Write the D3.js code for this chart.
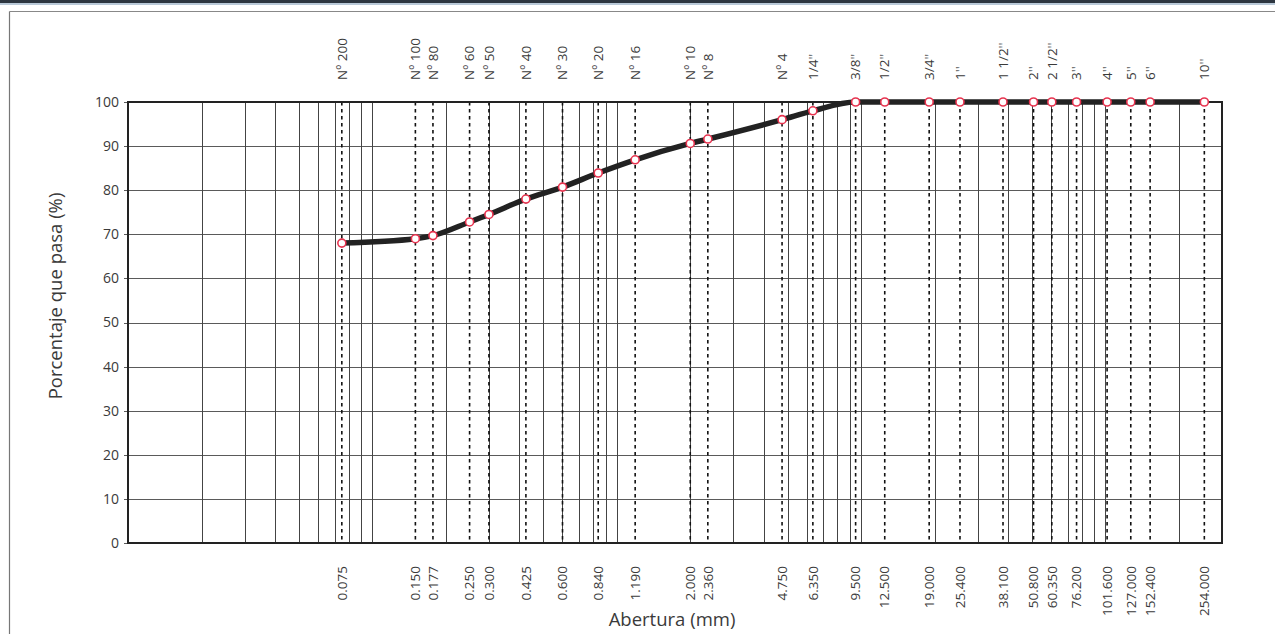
<!DOCTYPE html>
<html>
<head>
<meta charset="utf-8">
<script src="https://cdn.jsdelivr.net/npm/d3@7"></script>
<style>
  html, body { margin: 0; padding: 0; background: #fff; }
  svg { display: block; }
  text { font-family: "Open Sans", "DejaVu Sans", sans-serif; fill: #3a3a3a; }
</style>
</head>
<body>
<svg id="chart" width="1275" height="634"></svg>
<script>
// ---- data ----
const sieveNames = ["Nº 200","Nº 100","Nº 80","Nº 60","Nº 50","Nº 40","Nº 30","Nº 20","Nº 16","Nº 10","Nº 8","Nº 4",
  "1/4''","3/8''","1/2''","3/4''","1''","1 1/2''","2''","2 1/2''","3''","4''","5''","6''","10''"];
const openings = [0.075,0.150,0.177,0.250,0.300,0.425,0.600,0.840,1.190,2.000,2.360,4.750,
  6.350,9.500,12.500,19.000,25.400,38.100,50.800,60.350,76.200,101.600,127.000,152.400,254.000];
const openingLabels = ["0.075","0.150","0.177","0.250","0.300","0.425","0.600","0.840","1.190","2.000","2.360","4.750",
  "6.350","9.500","12.500","19.000","25.400","38.100","50.800","60.350","76.200","101.600","127.000","152.400","254.000"];
const passing = [68.0,69.0,69.7,72.8,74.5,78.0,80.7,83.9,86.9,90.6,91.6,96.0,
  98.0,100,100,100,100,100,100,100,100,100,100,100,100];
const yTicks = [0,10,20,30,40,50,60,70,80,90,100];
const xDomain = [0.01, 300];
const decades = [0.01,0.1,1,10,100];
const multipliers = [1,2,3,4,5,6,7,8,9];
const yTitle = "Porcentaje que pasa (%)";
const xTitle = "Abertura (mm)";

const logGridValues = [];
decades.forEach(d => multipliers.forEach(k => {
  const v = +(d * k).toPrecision(3);
  if (v > xDomain[0] && v < xDomain[1]) logGridValues.push(v);
}));

// ---- layout ----
const svg = d3.select("#chart");
const pLeft = 128, pRight = 1222, pTop = 102, pBottom = 543;
const x = d3.scaleLog().domain(xDomain).range([pLeft, pRight]);
const y = d3.scaleLinear().domain([0, 100]).range([pBottom, pTop]);

// page frame (scan border)
svg.append("rect").attr("x", 0).attr("y", 0).attr("width", 1275).attr("height", 3).attr("fill", "#2d3640");
svg.append("rect").attr("x", 0).attr("y", 3).attr("width", 1275).attr("height", 2).attr("fill", "#b9c9d8");
svg.append("line").attr("x1", 9.5).attr("x2", 1275).attr("y1", 11.5).attr("y2", 11.5).attr("stroke", "#888").attr("stroke-width", 1);
svg.append("line").attr("x1", 9.5).attr("x2", 9.5).attr("y1", 11.5).attr("y2", 634).attr("stroke", "#777").attr("stroke-width", 1.2);

const g = svg.append("g");

// horizontal grid
g.append("g").selectAll("line").data(yTicks).join("line")
  .attr("x1", pLeft - 4).attr("x2", pRight)
  .attr("y1", d => Math.round(y(d)) + 0.5).attr("y2", d => Math.round(y(d)) + 0.5)
  .attr("stroke", "#5a5a5a").attr("stroke-width", 1);

// vertical log grid
g.append("g").selectAll("line").data(logGridValues).join("line")
  .attr("x1", d => Math.round(x(d)) + 0.5).attr("x2", d => Math.round(x(d)) + 0.5)
  .attr("y1", pTop).attr("y2", pBottom)
  .attr("stroke", "#444").attr("stroke-width", 1);

// sieve dashed lines
g.append("g").selectAll("line").data(openings).join("line")
  .attr("x1", d => x(d)).attr("x2", d => x(d))
  .attr("y1", pTop).attr("y2", pBottom)
  .attr("stroke", "#111").attr("stroke-width", 1.6).attr("stroke-dasharray", "3.5,3.5");

// plot border
g.append("rect").attr("x", pLeft).attr("y", pTop).attr("width", pRight - pLeft).attr("height", pBottom - pTop)
  .attr("fill", "none").attr("stroke", "#222").attr("stroke-width", 2);

// y axis labels
g.append("g").selectAll("text").data(yTicks).join("text")
  .attr("x", pLeft - 9).attr("y", d => y(d)).attr("dy", "0.35em")
  .attr("text-anchor", "end").attr("font-size", 14).text(d => d);

// top sieve labels
g.append("g").selectAll("text").data(sieveNames).join("text")
  .attr("transform", (d, i) => `translate(${x(openings[i])},80) rotate(-90)`)
  .attr("dy", "0.35em").attr("text-anchor", "start").attr("font-size", 13.5).text(d => d);

// bottom opening labels
g.append("g").selectAll("text").data(openingLabels).join("text")
  .attr("transform", (d, i) => `translate(${x(openings[i])},566) rotate(-90)`)
  .attr("dy", "0.35em").attr("text-anchor", "end").attr("font-size", 13.5).text(d => d);

// curve
const pts = openings.map((o, i) => [o, passing[i]]);
const line = d3.line().x(d => x(d[0])).y(d => y(d[1])).curve(d3.curveMonotoneX);
g.append("path").attr("d", line(pts)).attr("fill", "none")
  .attr("stroke", "#222").attr("stroke-width", 5.5).attr("stroke-linejoin", "round");

// markers
g.append("g").selectAll("circle").data(pts).join("circle")
  .attr("cx", d => x(d[0])).attr("cy", d => y(d[1])).attr("r", 4)
  .attr("fill", "#fff").attr("stroke", "#e8334f").attr("stroke-width", 1.6);

// titles
svg.append("text").attr("transform", "translate(56,296) rotate(-90)")
  .attr("text-anchor", "middle").attr("dy", "0.35em").attr("font-size", 18.5).text(yTitle);
svg.append("text").attr("x", 672).attr("y", 626)
  .attr("text-anchor", "middle").attr("font-size", 18.5).text(xTitle);
</script>
</body>
</html>
